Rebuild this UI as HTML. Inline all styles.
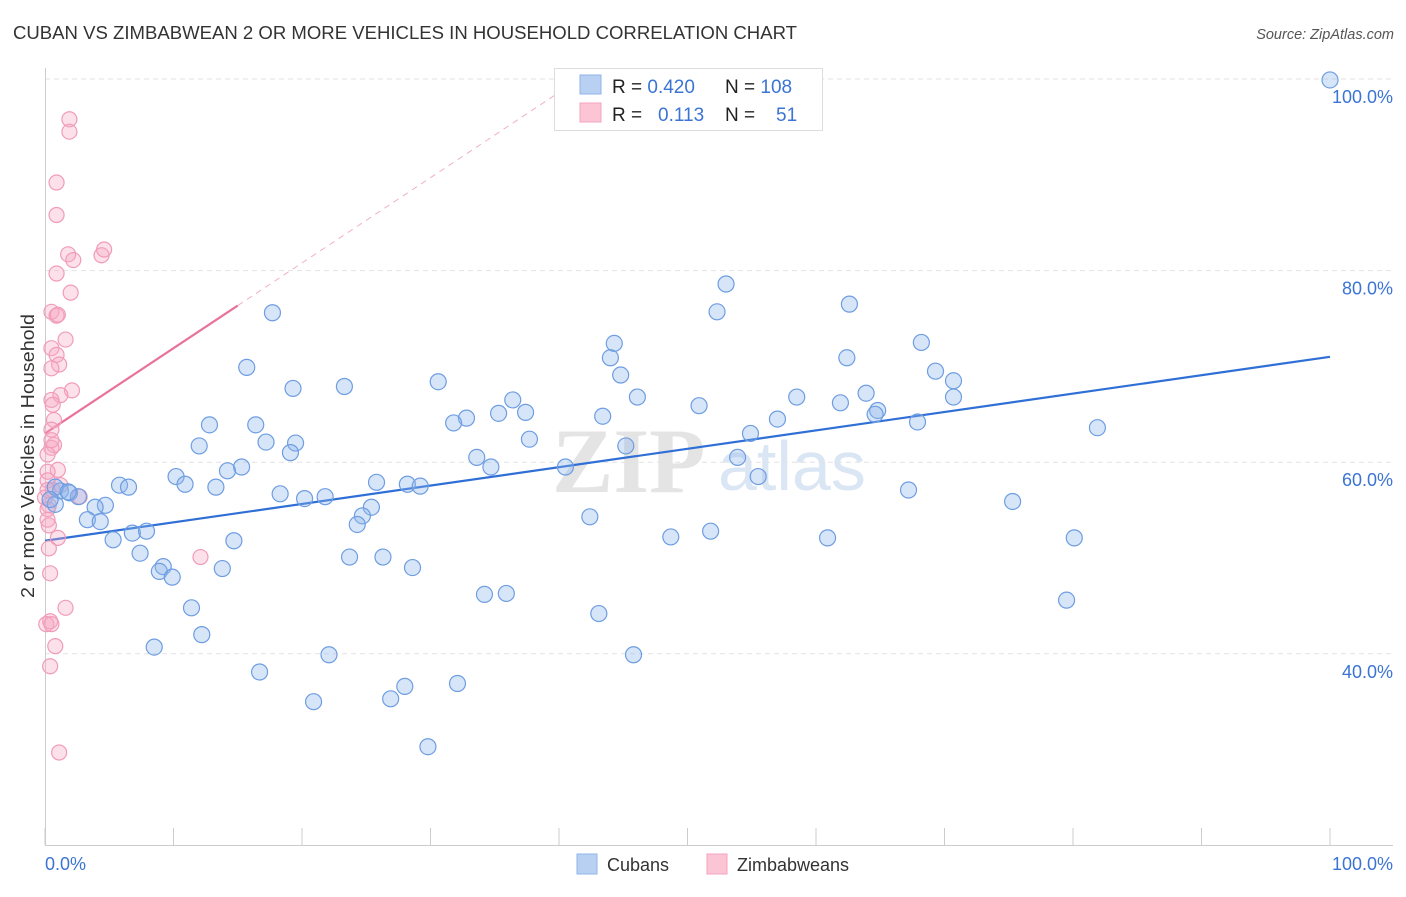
<!DOCTYPE html>
<html><head><meta charset="utf-8"><style>
body{margin:0;background:#fff;font-family:"Liberation Sans",sans-serif;}
</style></head><body>
<svg id="chart" width="1406" height="892" xmlns="http://www.w3.org/2000/svg" style="font-family:'Liberation Sans',sans-serif">
<text x="13" y="39" font-size="18" fill="#333" textLength="784" lengthAdjust="spacingAndGlyphs">CUBAN VS ZIMBABWEAN 2 OR MORE VEHICLES IN HOUSEHOLD CORRELATION CHART</text>
<text x="1394" y="39" font-size="14.5" fill="#555" font-style="italic" text-anchor="end">Source: ZipAtlas.com</text>
<g>
<text x="552" y="492" font-size="92" fill="#e4e4e4" font-family="Liberation Serif,serif" font-weight="bold">ZIP</text>
<text x="718" y="490" font-size="70" fill="#dbe6f5">atlas</text>
</g>
<g id="grid"></g>
<g id="axes"></g>
<g id="lines"></g>
<g id="pts"></g>
<g>
<rect x="554.5" y="68.5" width="268" height="62" fill="#fff" stroke="#ddd"/>
<rect x="580" y="75" width="21" height="19" fill="#b8d1f3" stroke="#8fb3e8"/>
<rect x="580" y="103" width="21" height="19" fill="#fcc5d5" stroke="#f4a3bd"/>
<text x="612" y="93" font-size="19" fill="#222">R = <tspan fill="#3b74d4">0.420</tspan></text>
<text x="725" y="93" font-size="19" fill="#222">N = <tspan fill="#3b74d4">108</tspan></text>
<text x="612" y="121" font-size="19" fill="#222">R = <tspan fill="#3b74d4" x="658">0.113</tspan></text>
<text x="725" y="121" font-size="19" fill="#222">N = <tspan fill="#3b74d4" x="776">51</tspan></text>
</g>
<g>
<rect x="577" y="854" width="20" height="20" fill="#b8d1f3" stroke="#8fb3e8"/>
<text x="607" y="871" font-size="18" fill="#333">Cubans</text>
<rect x="707" y="854" width="20" height="20" fill="#fcc5d5" stroke="#f4a3bd"/>
<text x="737" y="871" font-size="18" fill="#333">Zimbabweans</text>
</g>
<text transform="translate(34,456) rotate(-90)" font-size="18" fill="#333" text-anchor="middle" textLength="284" lengthAdjust="spacingAndGlyphs">2 or more Vehicles in Household</text>
</svg>
<script>
const blueX=[100,53.0,52.3,62.6,17.7,44.3,44.0,62.4,68.2,15.7,44.8,69.3,70.7,19.3,23.3,30.6,46.1,58.5,63.9,36.4,70.7,50.9,61.9,64.8,64.6,35.3,37.4,32.8,31.8,43.4,57.0,67.9,81.9,12.8,16.4,54.9,37.7,45.2,17.2,19.5,12.0,19.1,33.6,53.9,34.7,40.5,15.3,14.2,10.2,10.9,13.3,5.8,6.5,25.8,28.2,29.2,55.5,67.2,18.3,20.2,21.8,75.3,0.8,1.2,1.9,2.6,4.7,25.4,3.9,3.3,4.3,24.7,24.3,42.4,6.8,7.9,5.3,14.7,48.7,51.8,60.9,80.1,7.4,23.7,26.3,9.2,8.9,9.9,13.8,28.6,11.4,34.2,35.9,43.1,79.5,12.2,8.5,22.1,45.8,16.7,28.0,32.1,20.9,26.9,29.8,0.8,0.4,1.8];
const blueY=[99.9,78.6,75.7,76.5,75.6,72.4,70.9,70.9,72.5,69.9,69.1,69.5,68.5,67.7,67.9,68.4,66.8,66.8,67.2,66.5,66.8,65.9,66.2,65.4,65.0,65.1,65.2,64.6,64.1,64.8,64.5,64.2,63.6,63.9,63.9,63.0,62.4,61.7,62.1,62.0,61.7,61.0,60.5,60.5,59.5,59.5,59.5,59.1,58.5,57.7,57.4,57.6,57.4,57.9,57.7,57.5,58.5,57.1,56.7,56.2,56.4,55.9,55.6,57.0,56.8,56.4,55.5,55.3,55.3,54.0,53.8,54.4,53.5,54.3,52.6,52.8,51.9,51.8,52.2,52.8,52.1,52.1,50.5,50.1,50.1,49.1,48.6,48.0,48.9,49.0,44.8,46.2,46.3,44.2,45.6,42.0,40.7,39.9,39.9,38.1,36.6,36.9,35.0,35.3,30.3,57.4,56.1,56.9];
const pinkX=[1.9,1.9,0.9,0.9,1.8,2.2,4.4,4.6,0.9,2.0,0.5,0.9,1.0,1.6,0.5,0.9,1.1,0.5,2.1,1.2,0.5,0.6,0.7,0.5,0.7,0.5,1.0,0.2,0.2,0.6,0.3,0.2,0.2,0.3,1.0,0.3,0.4,12.1,1.6,0.4,0.1,0.5,0.8,0.4,1.1,2.7,0.2,0,1.2,0.2,0.5];
const pinkY=[95.8,94.5,89.2,85.8,81.7,81.1,81.6,82.2,79.7,77.7,75.7,75.3,75.4,72.8,71.9,71.2,70.2,69.8,67.5,67.0,66.5,66.0,64.4,63.4,61.8,61.5,59.2,59.0,58.1,57.1,55.5,55.1,54.0,53.4,52.1,51.0,48.4,50.1,44.8,43.4,43.1,43.1,40.8,38.7,29.7,56.4,57.1,56.3,57.6,60.8,62.3];
const blueFit=[51.8,71.0];      // y at x=0, x=100
const pinkFit=[63.0,0.89];      // intercept, slope
const yTicks=[100,80,60,40];
const xTickVals=[0,10,20,30,40,50,60,70,80,90,100];

const NS="http://www.w3.org/2000/svg";
const X0=45,X1=1330,Y100=79,YPER=9.58;
const sx=v=>X0+(X1-X0)*v/100;
const sy=v=>Y100+(100-v)*YPER;
function mk(tag,attrs,parent){const e=document.createElementNS(NS,tag);for(const k in attrs)e.setAttribute(k,attrs[k]);document.getElementById(parent).appendChild(e);return e;}

yTicks.forEach(t=>{
 const l=mk('line',{x1:45,x2:1393,y1:sy(t),y2:sy(t),stroke:'#e2e2e2','stroke-dasharray':'5,4'},'grid');
 
 
 const tx=mk('text',{x:1393,y:sy(t)+24,'font-size':18,fill:'#3b74d4','text-anchor':'end'},'grid');
 tx.textContent=t.toFixed(1)+'%';
 
 
});
const ax=mk('line',{x1:45,x2:1393,y1:845.5,y2:845.5,stroke:'#ccc'},'axes');


const ay=mk('line',{x1:45.5,x2:45.5,y1:68,y2:845,stroke:'#ccc'},'axes');


xTickVals.forEach(t=>{
 const l=mk('line',{x1:sx(t),x2:sx(t),y1:828,y2:845,stroke:'#ccc'},'axes');
 
 
});
[[0,'start'],[100,'end']].forEach(([t,a])=>{
 const tx=mk('text',{x:t===0?45:1393,y:870,'font-size':18,fill:'#3b74d4','text-anchor':a},'axes');
 tx.textContent=t.toFixed(1)+'%';
 
 
});

const bl=mk('line',{x1:sx(0),y1:sy(blueFit[0]),x2:sx(100),y2:sy(blueFit[1]),stroke:'#2f6fd6','stroke-width':2.2},'lines');


const pl=mk('line',{x1:sx(0),y1:sy(pinkFit[0]),x2:sx(15),y2:sy(pinkFit[0]+15*pinkFit[1]),stroke:'#e8729b','stroke-width':2.2},'lines');


const xe=(100-pinkFit[0])/pinkFit[1];
const pd=mk('line',{x1:sx(15),y1:sy(pinkFit[0]+15*pinkFit[1]),x2:sx(xe),y2:sy(100),stroke:'#f0b0c6','stroke-width':1,'stroke-dasharray':'6,5'},'lines');



pinkX.forEach((v,i)=>{
 const c=mk('circle',{cx:sx(v),cy:sy(pinkY[i]),r:7.5,fill:'rgba(247,170,195,0.35)',stroke:'#f19bb9','stroke-width':1.2},'pts');
 
 
});
blueX.forEach((v,i)=>{
 const c=mk('circle',{cx:sx(v),cy:sy(blueY[i]),r:8,fill:'rgba(140,180,235,0.35)',stroke:'#6e9de2','stroke-width':1.2},'pts');
 
 
});
</script>
</body></html>
